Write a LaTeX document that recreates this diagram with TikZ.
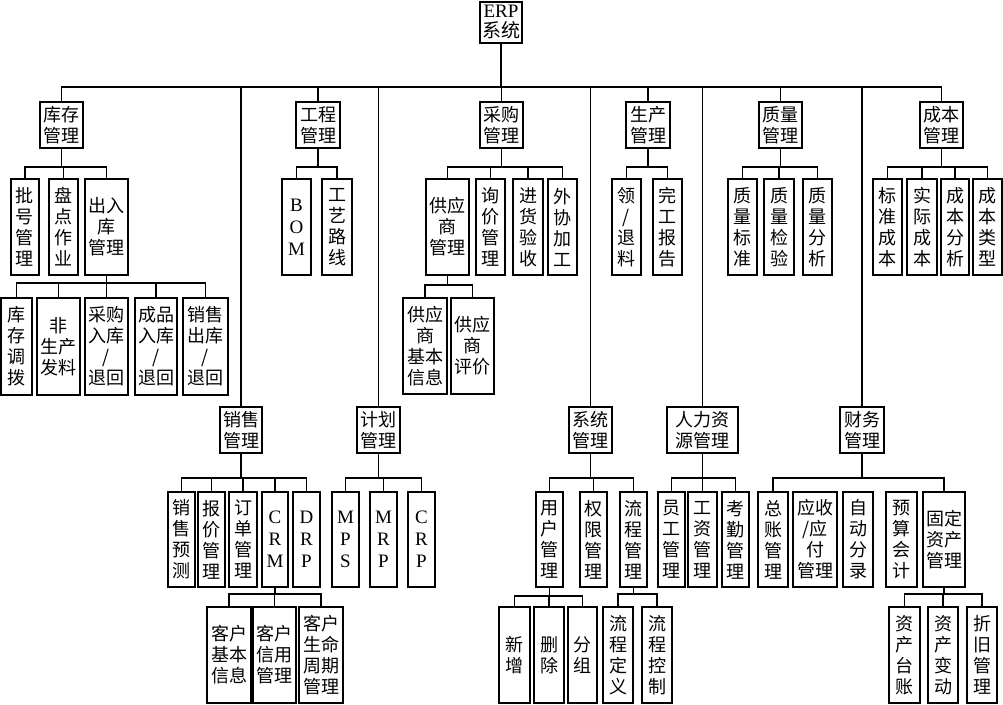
\documentclass[tikz,border=0pt]{standalone}
\usepackage{fontspec}
\setmainfont{Liberation Serif}
\newfontfamily\cjk{Noto Sans CJK SC}
\tikzset{
  box/.style={draw, line width=1.1pt, inner sep=0pt, align=center,
    font=\cjk\fontsize{18}{21}\selectfont},
  lat/.style={font=\rmfamily\fontsize{19}{22}\selectfont},
  conn/.style={line width=1.1pt},
}
\newcommand\bx[7][]{\node[box,#1, minimum width={#5-#3}, minimum height={#6-#4}] (#2) at ({(#3+#5)/2},{(#4+#6)/2}) {#7};}
\newcommand\tree[3]{%
  \coordinate (tmpbus) at (0,#2);
  \foreach \c in {#3} {\draw[conn] (#1.south) -- (#1.south |- tmpbus) -| (\c.north);}
}
\begin{document}
\begin{tikzpicture}[x=1pt,y=-1pt]
\useasboundingbox (0,0) rectangle (1003,704);
% level 0
\bx[lat]{erp}{480}{2}{522}{43}{ERP\\[-2pt]{\cjk 系统}}
% level 1 top
\bx{kc}{40}{102}{83}{148}{库存\\管理}
\bx{gc}{296}{102}{340}{148}{工程\\管理}
\bx{cg}{480}{102}{523}{148}{采购\\管理}
\bx{sc}{626}{102}{670}{148}{生产\\管理}
\bx{zl}{759}{102}{802}{148}{质量\\管理}
\bx{cb}{920}{102}{963}{148}{成本\\管理}
% level 1 bottom
\bx{xs}{220}{407}{262}{453}{销售\\管理}
\bx{jh}{357}{407}{400}{453}{计划\\管理}
\bx{xt}{569}{407}{612}{453}{系统\\管理}
\bx{rl}{667}{407}{738}{453}{人力资\\源管理}
\bx{cw}{840}{407}{884}{453}{财务\\管理}
% kucun
\bx{ph}{11}{179}{39}{275}{批\\号\\管\\理}
\bx{pd}{49}{179}{78}{275}{盘\\点\\作\\业}
\bx{crk}{85}{179}{128}{275}{出入\\库\\管理}
\bx{kcdb}{1}{298}{32}{395}{库\\存\\调\\拨}
\bx{fsc}{37}{298}{80}{395}{非\\生产\\发料}
\bx{cgrk}{85}{298}{128}{395}{采购\\入库\\/\\退回}
\bx{cprk}{135}{298}{177}{395}{成品\\入库\\/\\退回}
\bx{xsck}{183}{298}{228}{395}{销售\\出库\\/\\退回}
% gongcheng
\bx[lat]{bom}{282}{179}{311}{275}{B\\O\\M}
\bx{gylx}{322}{179}{352}{275}{工\\艺\\路\\线}
% caigou
\bx{gys}{426}{179}{469}{275}{供应\\商\\管理}
\bx{xj}{476}{179}{505}{275}{询\\价\\管\\理}
\bx{jhys}{513}{179}{543}{275}{进\\货\\验\\收}
\bx{wx}{548}{179}{577}{275}{外\\协\\加\\工}
\bx{gysxx}{403}{298}{447}{394}{供应\\商\\基本\\信息}
\bx{gyspj}{451}{298}{494}{394}{供应\\商\\评价}
% shengchan
\bx{lt}{612}{179}{641}{275}{领\\/\\退\\料}
\bx{wg}{653}{179}{682}{275}{完\\工\\报\\告}
% zhiliang
\bx{zlbz}{728}{179}{757}{275}{质\\量\\标\\准}
\bx{zljy}{764}{179}{794}{275}{质\\量\\检\\验}
\bx{zlfx}{803}{179}{832}{275}{质\\量\\分\\析}
% chengben
\bx{bzcb}{873}{179}{902}{275}{标\\准\\成\\本}
\bx{sjcb}{907}{179}{937}{275}{实\\际\\成\\本}
\bx{cbfx}{941}{179}{969}{275}{成\\本\\分\\析}
\bx{cblx}{973}{179}{1002}{275}{成\\本\\类\\型}
% xiaoshou
\bx{xsyc}{168}{492}{195}{587}{销\\售\\预\\测}
\bx{bjgl}{198}{492}{225}{587}{报\\价\\管\\理}
\bx{ddgl}{229}{492}{257}{587}{订\\单\\管\\理}
\bx[lat]{crm}{262}{492}{288}{587}{C\\R\\M}
\bx[lat]{drp}{293}{492}{320}{587}{D\\R\\P}
\bx{khxx}{207}{607}{251}{703}{客户\\基本\\信息}
\bx{khxy}{253}{607}{296}{703}{客户\\信用\\管理}
\bx{khsm}{299}{607}{343}{703}{客户\\生命\\周期\\管理}
% jihua
\bx[lat]{mps}{332}{492}{359}{587}{M\\P\\S}
\bx[lat]{mrp}{370}{492}{397}{587}{M\\R\\P}
\bx[lat]{crp}{408}{492}{435}{587}{C\\R\\P}
% xitong
\bx{yh}{536}{492}{563}{587}{用\\户\\管\\理}
\bx{qx}{580}{492}{607}{587}{权\\限\\管\\理}
\bx{lc}{620}{492}{647}{587}{流\\程\\管\\理}
\bx{xz}{499}{607}{530}{703}{新\\增}
\bx{sch}{534}{607}{564}{703}{删\\除}
\bx{fz}{568}{607}{597}{703}{分\\组}
\bx{lcdy}{603}{607}{633}{703}{流\\程\\定\\义}
\bx{lckz}{642}{607}{672}{703}{流\\程\\控\\制}
% renli
\bx{yg}{658}{492}{685}{587}{员\\工\\管\\理}
\bx{gz}{688}{492}{717}{587}{工\\资\\管\\理}
\bx{kq}{722}{492}{749}{587}{考\\勤\\管\\理}
% caiwu
\bx{zz}{758}{492}{788}{587}{总\\账\\管\\理}
\bx{ys}{793}{492}{837}{587}{应收\\/应\\付\\管理}
\bx{zdfl}{843}{492}{873}{587}{自\\动\\分\\录}
\bx{ysk}{886}{492}{917}{587}{预\\算\\会\\计}
\bx{gdzc}{923}{492}{965}{587}{固定\\资产\\管理}
\bx{zctz}{889}{607}{920}{703}{资\\产\\台\\账}
\bx{zcbd}{928}{607}{958}{703}{资\\产\\变\\动}
\bx{zjgl}{967}{607}{997}{703}{折\\旧\\管\\理}
% connectors
\tree{erp}{87}{kc,xs,gc,jh,cg,xt,sc,rl,zl,cw,cb}
\tree{kc}{167}{ph,pd,crk}
\tree{crk}{283}{kcdb,fsc,cgrk,cprk,xsck}
\tree{gc}{167}{bom,gylx}
\tree{cg}{167}{gys,xj,jhys,wx}
\tree{gys}{285}{gysxx,gyspj}
\tree{sc}{167}{lt,wg}
\tree{zl}{167}{zlbz,zljy,zlfx}
\tree{cb}{167}{bzcb,sjcb,cbfx,cblx}
\tree{xs}{478}{xsyc,bjgl,ddgl,crm,drp}
\tree{crm}{594}{khxx,khxy,khsm}
\tree{jh}{478}{mps,mrp,crp}
\tree{xt}{478}{yh,qx,lc}
\tree{yh}{596}{xz,sch,fz}
\tree{lc}{594}{lcdy,lckz}
\tree{rl}{478}{yg,gz,kq}
\tree{cw}{478}{zz,gdzc}
\tree{gdzc}{594}{zctz,zcbd,zjgl}
\end{tikzpicture}
\end{document}
